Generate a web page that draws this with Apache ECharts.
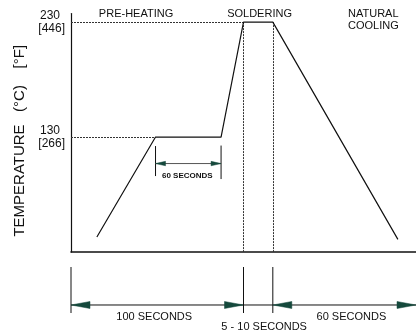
<!DOCTYPE html>
<html><head><meta charset="utf-8">
<script src="https://cdn.jsdelivr.net/npm/echarts@6/dist/echarts.min.js"></script>
<style>html,body{margin:0;padding:0;background:#fff}#c{width:416px;height:333px}</style>
</head><body><div id="c"></div>
<script>
// ---- data ----
const timeSec = [15, 49, 87, 100, 117, 189.5];
const tempC = [43, 130, 130, 230, 230, 41];
const yTickC = [130, 230];
const yTickF = [266, 446];
const phaseLabels = ['PRE-HEATING', 'SOLDERING', 'NATURAL\nCOOLING'];
const holdLabel = '60 SECONDS';
const dimBounds = [0, 100, 117, 200];
const dimLabels = ['100 SECONDS', '5 - 10 SECONDS', '60 SECONDS'];
const yTitle = 'TEMPERATURE   (°C)    [°F]';

// ---- layout ----
const X_MIN = 0, X_MAX = 200, Y_MIN = 30, Y_MAX = 237.5;
const phaseAnchor = [{x: 37.7, align: 'center'}, {x: 109.3, align: 'center'}, {x: 160.6, align: 'left'}];
const dimLabelShift = [[-3, 0], [6, 10], [7, 0]];
const FONT = '"Liberation Sans", Arial, sans-serif';
const INK = '#111';
const ARROW = '#15493c';

function arrow(tip, dir, len, half) {
  return {type: 'polygon', silent: true,
    shape: {points: [[tip[0], tip[1]], [tip[0] - dir * len, tip[1] - half], [tip[0] - dir * len, tip[1] + half]]},
    style: {fill: ARROW, stroke: ARROW, lineWidth: 0.5}};
}
function seg(x1, y1, x2, y2, color, w) {
  return {type: 'line', silent: true, shape: {x1, y1, x2, y2}, style: {stroke: color, lineWidth: w}};
}

const curve = timeSec.map((t, i) => [t, tempC[i]]);
const guides = [
  {coords: [[X_MIN, tempC[1]], [timeSec[1], tempC[1]]]},
  {coords: [[X_MIN, tempC[3]], [timeSec[3], tempC[3]]]},
  {coords: [[timeSec[3], tempC[3]], [timeSec[3], Y_MIN]]},
  {coords: [[timeSec[4], tempC[4]], [timeSec[4], Y_MIN]]}
];

const chart = echarts.init(document.getElementById('c'), null, {renderer: 'canvas'});
chart.setOption({
  animation: false,
  backgroundColor: '#fff',
  grid: [
    {left: 71, right: 0, top: 13.5, bottom: 81},
    {left: 71, right: 0, top: 267, bottom: 20}
  ],
  xAxis: [
    {type: 'value', min: X_MIN, max: X_MAX, gridIndex: 0,
      axisLine: {show: true, onZero: false, lineStyle: {color: INK, width: 1.6}},
      axisTick: {show: false}, axisLabel: {show: false}, splitLine: {show: false}},
    {type: 'value', min: X_MIN, max: X_MAX, gridIndex: 1, show: false}
  ],
  yAxis: [
    {type: 'value', min: Y_MIN, max: Y_MAX, gridIndex: 0,
      axisLine: {show: true, lineStyle: {color: INK, width: 1.2}},
      axisTick: {show: false}, splitLine: {show: false},
      axisLabel: {show: true, customValues: yTickC, margin: 6,
        formatter: function (v) { const i = yTickC.indexOf(v); return '{c|' + v + '}\n{f|[' + yTickF[i] + ']}'; },
        rich: {
          c: {fontSize: 12, lineHeight: 14, fontFamily: FONT, color: INK, padding: [2, 5, 0, 0]},
          f: {fontSize: 12, lineHeight: 14, fontFamily: FONT, color: INK}
        }},
      name: yTitle, nameLocation: 'middle', nameRotate: 90, nameGap: 44,
      nameTextStyle: {fontSize: 15, color: INK, fontFamily: FONT, padding: [0, 16, 0, 0]}},
    {type: 'value', min: 0, max: 1, gridIndex: 1, show: false}
  ],
  series: [
    {type: 'lines', coordinateSystem: 'cartesian2d', xAxisIndex: 0, yAxisIndex: 0, silent: true,
      data: guides, lineStyle: {color: '#333', width: 1, type: [2, 1], opacity: 1}, z: 1},
    {type: 'line', xAxisIndex: 0, yAxisIndex: 0, data: curve, showSymbol: false, silent: true,
      lineStyle: {color: INK, width: 1.2}, z: 3},
    // hold-time dimension
    {type: 'custom', xAxisIndex: 0, yAxisIndex: 0, silent: true, clip: false, z: 4,
      data: [[timeSec[1], timeSec[2], holdLabel]],
      renderItem: function (params, api) {
        const a = api.coord([api.value(0), tempC[1]]);
        const b = api.coord([api.value(1), tempC[1]]);
        const y0 = a[1];
        const ay = y0 + 26.5;
        return {type: 'group', children: [
          seg(a[0], y0 + 9, a[0], y0 + 39, INK, 1),
          seg(b[0], y0 + 8.5, b[0], y0 + 42, INK, 1),
          seg(a[0], ay, b[0], ay, '#555', 1),
          arrow([a[0], ay], -1, 10, 2.2),
          arrow([b[0], ay], 1, 10, 2.2),
          {type: 'text', silent: true, style: {text: api.value(2), x: (a[0] + b[0]) / 2 - 1, y: y0 + 38.5,
            align: 'center', verticalAlign: 'middle', font: 'bold 8px ' + FONT, fill: INK}}
        ]};
      }},
    // phase labels
    {type: 'custom', xAxisIndex: 0, yAxisIndex: 0, silent: true, clip: false, z: 4,
      data: phaseLabels.map((l, i) => [i, l]),
      renderItem: function (params, api) {
        const i = api.value(0);
        const p = api.coord([phaseAnchor[i].x, Y_MAX]);
        return {type: 'text', silent: true, style: {text: phaseLabels[i], x: p[0], y: p[1] - 6,
          align: phaseAnchor[i].align, verticalAlign: 'top', font: '11px ' + FONT, fill: INK, lineHeight: 12}};
      }},
    // bottom dimension chain
    {type: 'custom', xAxisIndex: 1, yAxisIndex: 1, silent: true, clip: false, z: 4,
      data: dimLabels.map((l, i) => [dimBounds[i], dimBounds[i + 1], l]),
      renderItem: function (params, api) {
        const i = params.dataIndex;
        const s0 = api.coord([api.value(0), 1]);
        const s1 = api.coord([api.value(0), 0]);
        const e = api.coord([api.value(1), 0]);
        const ay = api.coord([0, 0.174])[1];
        const narrow = (e[0] - s1[0]) < 60;
        const children = [
          seg(s0[0], s0[1], s1[0], s1[1], INK, 1),
          seg(s1[0], ay, e[0], ay, INK, 1)
        ];
        if (!narrow) {
          children.push(arrow([s1[0], ay], -1, 19, 3.5));
          children.push(arrow([e[0], ay], 1, 19, 3.5));
        }
        children.push({type: 'text', silent: true, style: {text: api.value(2),
          x: (s1[0] + e[0]) / 2 + dimLabelShift[i][0], y: s1[1] + 4 + dimLabelShift[i][1],
          align: 'center', verticalAlign: 'middle', font: '11px ' + FONT, fill: INK}});
        return {type: 'group', children};
      }}
  ]
});
</script>
</body></html>
